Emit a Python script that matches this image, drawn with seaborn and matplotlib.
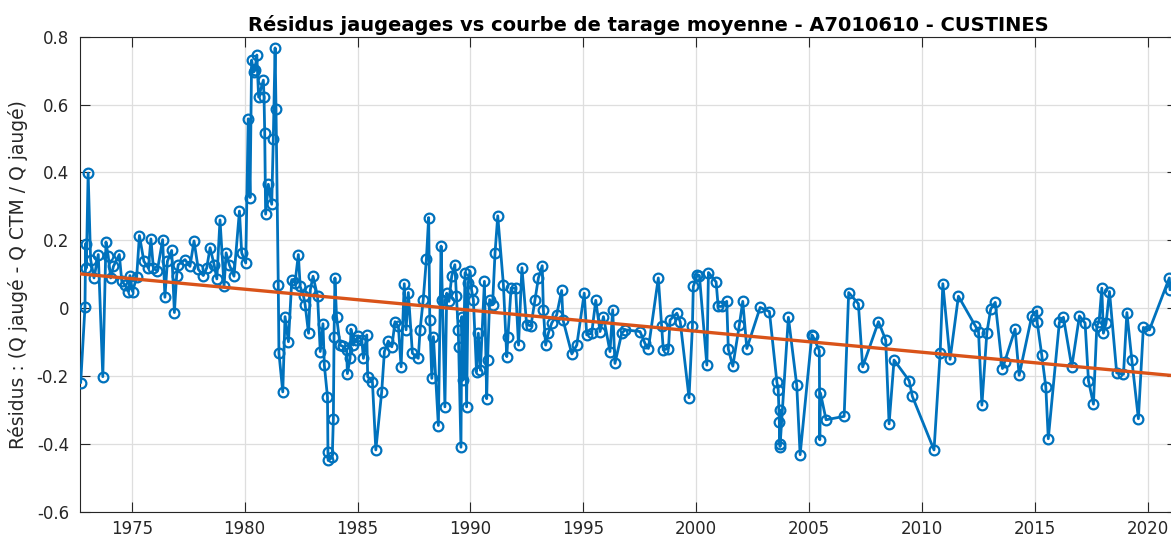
import matplotlib
matplotlib.use("Agg")
import matplotlib.pyplot as plt
import seaborn as sns
import pandas as pd

# ---- data ----
years = [
    1972.74, 1972.93, 1972.96, 1972.99, 1973.07, 1973.18, 1973.33, 1973.52, 1973.72, 1973.86,
    1973.96, 1974.07, 1974.19, 1974.45, 1974.56, 1974.70, 1974.85, 1974.92, 1975.04, 1975.22,
    1975.34, 1975.54, 1975.74, 1975.85, 1975.96, 1976.13, 1976.37, 1976.47, 1976.58, 1976.77,
    1976.89, 1976.99, 1977.06, 1977.36, 1977.58, 1977.76, 1977.95, 1978.17, 1978.32, 1978.47,
    1978.65, 1978.77, 1978.91, 1979.09, 1979.18, 1979.32, 1979.53, 1979.77, 1979.87, 1980.05,
    1980.16, 1980.24, 1980.31, 1980.40, 1980.46, 1980.54, 1980.62, 1980.83, 1980.86, 1980.89,
    1980.93, 1981.05, 1981.20, 1981.27, 1981.35, 1981.39, 1981.49, 1981.52, 1981.69, 1981.79,
    1981.94, 1982.09, 1982.23, 1982.38, 1982.46, 1982.61, 1982.68, 1982.83, 1982.91, 1983.03,
    1983.23, 1983.35, 1983.47, 1983.53, 1983.67, 1983.69, 1983.70, 1983.88, 1983.93, 1983.96,
    1984.00, 1984.07, 1984.23, 1984.36, 1984.52, 1984.55, 1984.67, 1984.71, 1984.81, 1984.92,
    1985.04, 1985.19, 1985.26, 1985.41, 1985.45, 1985.66, 1985.81, 1986.07, 1986.19, 1986.36,
    1986.52, 1986.66, 1986.81, 1986.93, 1987.07, 1987.15, 1987.25, 1987.43, 1987.69, 1987.77,
    1987.91, 1988.05, 1988.15, 1988.20, 1988.29, 1988.36, 1988.58, 1988.70, 1988.76, 1988.87,
    1988.95, 1989.05, 1989.17, 1989.31, 1989.38, 1989.46, 1989.48, 1989.58, 1989.62, 1989.68,
    1989.76, 1989.83, 1989.90, 1989.98, 1990.05, 1990.13, 1990.27, 1990.35, 1990.44, 1990.62,
    1990.72, 1990.76, 1990.85, 1990.98, 1991.09, 1991.21, 1991.46, 1991.61, 1991.66, 1991.80,
    1992.00, 1992.13, 1992.28, 1992.49, 1992.68, 1992.86, 1993.01, 1993.18, 1993.23, 1993.33,
    1993.45, 1993.60, 1993.82, 1994.04, 1994.10, 1994.49, 1994.71, 1995.04, 1995.15, 1995.37,
    1995.55, 1995.74, 1995.89, 1996.18, 1996.30, 1996.40, 1996.70, 1996.85, 1997.51, 1997.73,
    1997.88, 1998.32, 1998.47, 1998.54, 1998.77, 1998.84, 1999.14, 1999.29, 1999.68, 1999.83,
    1999.87, 2000.05, 2000.14, 2000.47, 2000.54, 2000.88, 2000.97, 2001.13, 2001.35, 2001.42,
    2001.62, 2001.91, 2002.06, 2002.24, 2002.83, 2003.24, 2003.57, 2003.63, 2003.68, 2003.69,
    2003.70, 2003.71, 2004.08, 2004.45, 2004.60, 2005.12, 2005.16, 2005.45, 2005.47, 2005.50,
    2005.75, 2006.55, 2006.75, 2007.18, 2007.37, 2008.07, 2008.39, 2008.54, 2008.76, 2009.43,
    2009.57, 2010.53, 2010.80, 2010.92, 2011.24, 2011.61, 2012.35, 2012.50, 2012.65, 2012.87,
    2013.04, 2013.24, 2013.56, 2013.66, 2014.12, 2014.30, 2014.86, 2015.08, 2015.10, 2015.30,
    2015.48, 2015.59, 2016.08, 2016.26, 2016.63, 2016.97, 2017.22, 2017.37, 2017.59, 2017.74,
    2017.84, 2017.96, 2018.03, 2018.15, 2018.30, 2018.62, 2018.92, 2019.07, 2019.29, 2019.58,
    2019.80, 2020.07, 2020.95, 2020.98,
]
residus = [
    -0.220, 0.003, 0.190, 0.118, 0.398, 0.143, 0.089, 0.158, -0.202, 0.195,
    0.153, 0.089, 0.123, 0.158, 0.079, 0.069, 0.049, 0.096, 0.049, 0.092,
    0.214, 0.138, 0.118, 0.204, 0.118, 0.109, 0.202, 0.032, 0.138, 0.170,
    -0.013, 0.096, 0.128, 0.143, 0.123, 0.198, 0.114, 0.096, 0.118, 0.178,
    0.128, 0.086, 0.260, 0.064, 0.163, 0.128, 0.094, 0.286, 0.163, 0.133,
    0.558, 0.326, 0.731, 0.696, 0.701, 0.746, 0.622, 0.672, 0.622, 0.516,
    0.277, 0.365, 0.306, 0.499, 0.767, 0.588, 0.069, -0.133, -0.247, -0.025,
    -0.099, 0.084, 0.074, 0.158, 0.064, 0.035, 0.010, -0.074, 0.054, 0.094,
    0.035, -0.128, -0.046, -0.168, -0.262, -0.425, -0.449, -0.440, -0.326, -0.084,
    0.089, -0.025, -0.109, -0.113, -0.123, -0.193, -0.148, -0.062, -0.109, -0.094,
    -0.082, -0.094, -0.148, -0.079, -0.202, -0.217, -0.418, -0.247, -0.128, -0.097,
    -0.114, -0.040, -0.054, -0.173, 0.072, -0.064, 0.046, -0.133, -0.148, -0.064,
    0.025, 0.145, 0.267, -0.035, -0.207, -0.084, -0.346, 0.183, 0.025, -0.291,
    0.044, 0.020, 0.094, 0.128, 0.035, -0.064, -0.114, -0.410, -0.025, -0.212,
    0.104, -0.291, 0.074, 0.109, 0.054, 0.025, -0.188, -0.074, -0.183, 0.079,
    -0.267, -0.153, 0.025, 0.010, 0.163, 0.272, 0.069, -0.143, -0.084, 0.059,
    0.059, -0.109, 0.119, -0.049, -0.052, 0.025, 0.089, 0.125, -0.005, -0.109,
    -0.074, -0.044, -0.020, 0.052, -0.035, -0.135, -0.109, 0.044, -0.079, -0.074,
    0.023, -0.069, -0.025, -0.128, -0.005, -0.163, -0.074, -0.064, -0.069, -0.104,
    -0.119, 0.089, -0.054, -0.123, -0.119, -0.035, -0.015, -0.040, -0.264, -0.054,
    0.064, 0.099, 0.096, -0.168, 0.105, 0.077, 0.005, 0.005, 0.020, -0.121,
    -0.171, -0.049, 0.020, -0.119, 0.002, -0.010, -0.217, -0.240, -0.336, -0.400,
    -0.301, -0.408, -0.027, -0.227, -0.432, -0.079, -0.082, -0.125, -0.388, -0.250,
    -0.329, -0.319, 0.046, 0.013, -0.173, -0.040, -0.094, -0.341, -0.153, -0.214,
    -0.260, -0.418, -0.133, 0.072, -0.151, 0.035, -0.052, -0.069, -0.286, -0.072,
    -0.003, 0.017, -0.178, -0.158, -0.062, -0.198, -0.023, -0.008, -0.042, -0.138,
    -0.232, -0.385, -0.042, -0.027, -0.173, -0.023, -0.044, -0.214, -0.283, -0.052,
    -0.040, 0.059, -0.074, -0.044, 0.049, -0.191, -0.195, -0.013, -0.153, -0.326,
    -0.057, -0.064, 0.089, 0.054,
]
trend_years = [1972.71, 2021.29]
trend_values = [0.101, -0.200]

x_ticks = [1975, 1980, 1985, 1990, 1995, 2000, 2005, 2010, 2015, 2020]
y_ticks = [-0.6, -0.4, -0.2, 0, 0.2, 0.4, 0.6, 0.8]
y_ticklabels = ["-0.6", "-0.4", "-0.2", "0", "0.2", "0.4", "0.6", "0.8"]

title = "Résidus jaugeages vs courbe de tarage moyenne - A7010610 - CUSTINES"
ylabel = "Résidus : (Q jaugé - Q CTM / Q jaugé)"

# ---- plot ----
sns.set_theme(style="white")
plt.rcParams["font.family"] = ["DejaVu Sans"]

W, H = 1171, 537
fig = plt.figure(figsize=(W / 100, H / 100), dpi=100)
ax = fig.add_axes([80 / W, 25.3 / H, 1097 / W, 475 / H])

blue = "#0072BD"
orange = "#D95319"

df = pd.DataFrame({"annee": years, "residu": residus})
dft = pd.DataFrame({"annee": trend_years, "residu": trend_values})

sns.lineplot(data=df, x="annee", y="residu", ax=ax, sort=False, estimator=None,
             color=blue, linewidth=2.0, marker="o", markersize=7.0,
             markerfacecolor="none", markeredgecolor=blue, markeredgewidth=1.6,
             zorder=3)
sns.lineplot(data=dft, x="annee", y="residu", ax=ax, sort=False, estimator=None,
             color=orange, linewidth=2.4, zorder=4)

ax.set_xlim(trend_years[0], trend_years[1])
ax.set_ylim(-0.6, 0.8)
ax.set_xticks(x_ticks)
ax.set_xticklabels([str(t) for t in x_ticks])
ax.set_yticks(y_ticks)
ax.set_yticklabels(y_ticklabels)

ax.grid(True, color="#dedede", linewidth=0.9)
ax.set_axisbelow(True)
for s in ax.spines.values():
    s.set_color("#262626")
    s.set_linewidth(0.8)
    s.set_visible(True)

ax.tick_params(axis="both", which="both", direction="in", length=7.5, width=0.8,
               color="#262626", labelcolor="#262626", labelsize=12,
               top=True, right=True, bottom=True, left=True)
ax.tick_params(axis="x", pad=6)
ax.tick_params(axis="y", pad=8)

ax.set_xlabel("")
ax.set_ylabel(ylabel, fontsize=13.5, color="#262626")
ax.yaxis.set_label_coords(-0.047, 0.5)
ax.set_title(title, fontsize=14, fontweight="bold", color="#000000",
             x=(648 - 80) / 1097, y=1.0, pad=4)

fig.savefig("out.png", dpi=100)
